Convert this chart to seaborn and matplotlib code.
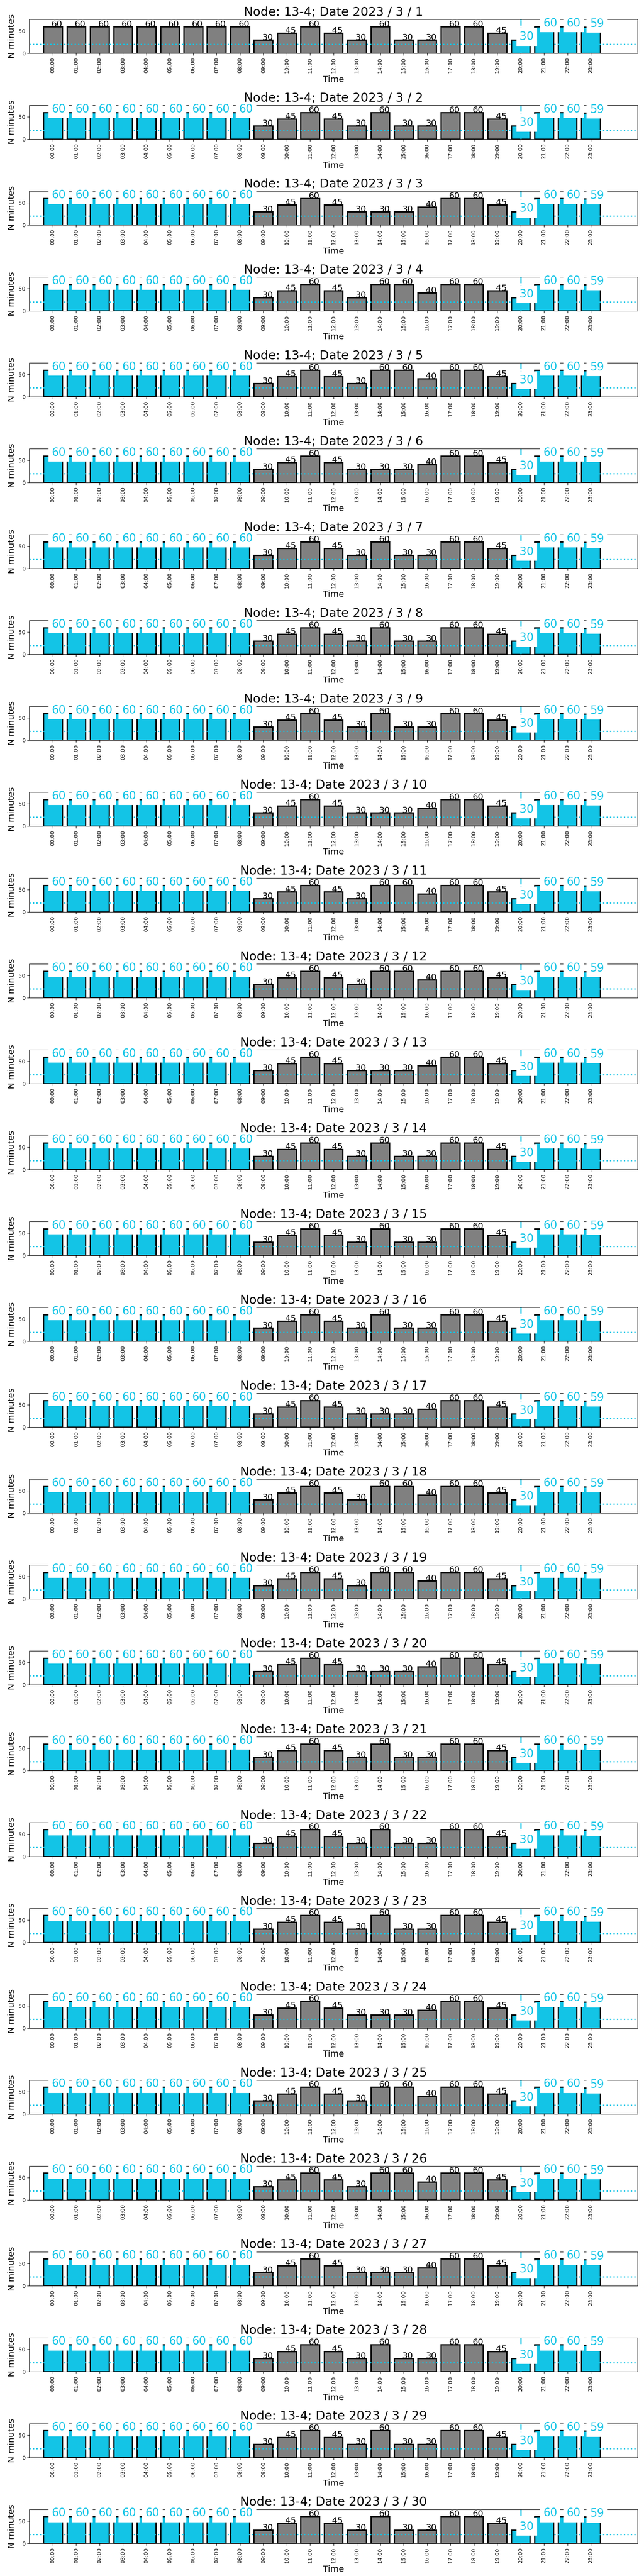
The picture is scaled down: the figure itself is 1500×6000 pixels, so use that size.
import matplotlib
matplotlib.use("Agg")
import matplotlib.pyplot as plt
import seaborn as sns
import pandas as pd

# ---------------- data ----------------
node = "13-4"
year, month = 2023, 3
days = list(range(1, 31))
hours = [f"{h:02d}:00" for h in range(24)]

# minutes per hour, one row per day
minutes = [
    [60,60,60,60,60,60,60,60,60, 30,45,60,45,30,60,30,30,60,60,45, 30,60,60,59],  # 1
    [60,60,60,60,60,60,60,60,60, 30,45,60,45,30,60,30,30,60,60,45, 30,60,60,59],  # 2
    [60,60,60,60,60,60,60,60,60, 30,45,60,45,30,30,30,40,60,60,45, 30,60,60,59],  # 3
    [60,60,60,60,60,60,60,60,60, 30,45,60,45,30,60,60,40,60,60,45, 30,60,60,59],  # 4
    [60,60,60,60,60,60,60,60,60, 30,45,60,45,30,60,60,40,60,60,45, 30,60,60,59],  # 5
    [60,60,60,60,60,60,60,60,60, 30,45,60,45,30,30,30,40,60,60,45, 30,60,60,59],  # 6
    [60,60,60,60,60,60,60,60,60, 30,45,60,45,30,60,30,30,60,60,45, 30,60,60,59],  # 7
    [60,60,60,60,60,60,60,60,60, 30,45,60,45,30,60,30,30,60,60,45, 30,60,60,59],  # 8
    [60,60,60,60,60,60,60,60,60, 30,45,60,45,30,60,30,30,60,60,45, 30,60,60,59],  # 9
    [60,60,60,60,60,60,60,60,60, 30,45,60,45,30,30,30,40,60,60,45, 30,60,60,59],  # 10
    [60,60,60,60,60,60,60,60,60, 30,45,60,45,30,60,60,40,60,60,45, 30,60,60,59],  # 11
    [60,60,60,60,60,60,60,60,60, 30,45,60,45,30,60,60,40,60,60,45, 30,60,60,59],  # 12
    [60,60,60,60,60,60,60,60,60, 30,45,60,45,30,30,30,40,60,60,45, 30,60,60,59],  # 13
    [60,60,60,60,60,60,60,60,60, 30,45,60,45,30,60,30,30,60,60,45, 30,60,60,59],  # 14
    [60,60,60,60,60,60,60,60,60, 30,45,60,45,30,60,30,30,60,60,45, 30,60,60,59],  # 15
    [60,60,60,60,60,60,60,60,60, 30,45,60,45,30,60,30,30,60,60,45, 30,60,60,59],  # 16
    [60,60,60,60,60,60,60,60,60, 30,45,60,45,30,30,30,40,60,60,45, 30,60,60,59],  # 17
    [60,60,60,60,60,60,60,60,60, 30,45,60,45,30,60,60,40,60,60,45, 30,60,60,59],  # 18
    [60,60,60,60,60,60,60,60,60, 30,45,60,45,30,60,60,40,60,60,45, 30,60,60,59],  # 19
    [60,60,60,60,60,60,60,60,60, 30,45,60,45,30,30,30,40,60,60,45, 30,60,60,59],  # 20
    [60,60,60,60,60,60,60,60,60, 30,45,60,45,30,60,30,30,60,60,45, 30,60,60,59],  # 21
    [60,60,60,60,60,60,60,60,60, 30,45,60,45,30,60,30,30,60,60,45, 30,60,60,59],  # 22
    [60,60,60,60,60,60,60,60,60, 30,45,60,45,30,60,30,30,60,60,45, 30,60,60,59],  # 23
    [60,60,60,60,60,60,60,60,60, 30,45,60,45,30,30,30,40,60,60,45, 30,60,60,59],  # 24
    [60,60,60,60,60,60,60,60,60, 30,45,60,45,30,60,60,40,60,60,45, 30,60,60,59],  # 25
    [60,60,60,60,60,60,60,60,60, 30,45,60,45,30,60,60,40,60,60,45, 30,60,60,59],  # 26
    [60,60,60,60,60,60,60,60,60, 30,45,60,45,30,30,30,40,60,60,45, 30,60,60,59],  # 27
    [60,60,60,60,60,60,60,60,60, 30,45,60,45,30,60,30,30,60,60,45, 30,60,60,59],  # 28
    [60,60,60,60,60,60,60,60,60, 30,45,60,45,30,60,30,30,60,60,45, 30,60,60,59],  # 29
    [60,60,60,60,60,60,60,60,60, 30,45,60,45,30,60,30,30,60,60,45, 30,60,60,59],  # 30
]

# highlighted (cyan) hours per day
highlight_day1 = [20, 21, 22, 23]
highlight_other = [0, 1, 2, 3, 4, 5, 6, 7, 8, 20, 21, 22, 23]

threshold = 20          # dotted horizontal reference line
marker_hour = 20        # dash-dot vertical marker

# ---------------- style ----------------
CYAN = "#13c4e6"
GREY = "#808080"

plt.rcParams["font.family"] = ["DejaVu Sans"]

fig, axes = plt.subplots(len(days), 1, figsize=(15, 60), dpi=100)
fig.subplots_adjust(left=0.0456, right=0.99, top=0.9925, bottom=0.0127, hspace=1.532)

for d, ax, vals in zip(days, axes, minutes):
    hl = highlight_day1 if d == 1 else highlight_other
    flags = ["high" if i in hl else "normal" for i in range(len(hours))]
    df = pd.DataFrame({"Time": hours, "N minutes": vals, "flag": flags})

    sns.barplot(data=df, x="Time", y="N minutes", hue="flag", order=hours,
                hue_order=["normal", "high"],
                palette={"normal": GREY, "high": CYAN},
                dodge=False, width=0.8, edgecolor="black", linewidth=2.2,
                saturation=1, legend=False, ax=ax)

    ax.axhline(threshold, color=CYAN, linestyle=":", linewidth=2.2, zorder=2)
    ax.axvline(marker_hour, color=CYAN, linestyle="-.", linewidth=2.2, zorder=2)

    for i, v in enumerate(vals):
        if flags[i] == "high":
            ax.text(i - 0.04, v, str(v), color=CYAN, fontsize=18.5,
                    ha="left", va="baseline", zorder=3,
                    bbox=dict(boxstyle="square,pad=0.3", fc="white", ec="none"))
        else:
            ax.text(i - 0.06, v, str(v), color="black", fontsize=14.5,
                    ha="left", va="baseline", zorder=3)

    ax.set_xlim(-1, 25)
    ax.set_ylim(0, 76)
    ax.set_yticks([0, 50])
    ax.tick_params(axis="y", labelsize=9)
    ax.tick_params(axis="x", labelsize=9, rotation=90)
    ax.set_xlabel("Time", fontsize=14.5)
    ax.set_ylabel("N minutes", fontsize=14.5)
    ax.set_title(f"Node: {node}; Date {year} / {month} / {d}", fontsize=20.5)

fig.savefig("out.png", dpi=100)
